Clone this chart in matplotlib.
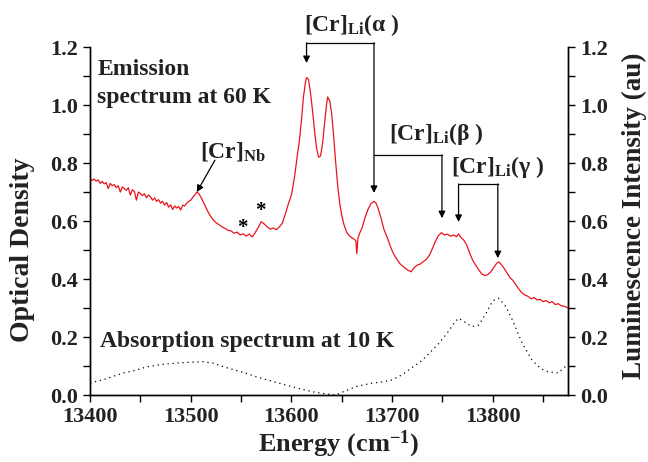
"""Emission / absorption spectra of Cr centres, replotted from the figure."""

import numpy as np
import matplotlib
matplotlib.use('Agg')
import matplotlib.pyplot as plt
from matplotlib.ticker import MultipleLocator, FormatStrFormatter

plt.rcParams['font.family'] = ['Liberation Serif', 'DejaVu Serif']
plt.rcParams['font.weight'] = 'bold'
plt.rcParams['mathtext.fontset'] = 'custom'
plt.rcParams['mathtext.rm'] = 'Liberation Serif:bold'
plt.rcParams['mathtext.bf'] = 'Liberation Serif:bold'
plt.rcParams['mathtext.it'] = 'Liberation Serif:bold'

# emission spectrum at 60 K (right axis)
emis_x = [13400, 13402, 13404, 13406, 13408, 13410, 13412, 13414, 13416, 13418,
          13420, 13422, 13424, 13426, 13428, 13430, 13432, 13434, 13436, 13438,
          13440, 13442, 13444, 13446, 13448, 13450, 13452, 13454, 13456, 13458,
          13460, 13462, 13464, 13466, 13468, 13470, 13472, 13474, 13476, 13478,
          13480, 13482, 13484, 13486, 13488, 13490, 13492, 13494, 13496, 13498,
          13500, 13502, 13504, 13506, 13508, 13510, 13513, 13516, 13519, 13522,
          13525, 13528, 13531, 13534, 13537, 13540, 13543, 13546, 13549, 13552,
          13555, 13558, 13561, 13564, 13567, 13570, 13573, 13576, 13579, 13582,
          13585, 13588, 13591, 13594, 13597, 13600, 13603, 13606, 13608, 13610,
          13612, 13614, 13615, 13617, 13619, 13621, 13623, 13625, 13627, 13629,
          13631, 13633, 13635, 13636, 13638, 13640, 13642, 13644, 13646, 13648,
          13650, 13652, 13655, 13658, 13661, 13663, 13664, 13665, 13666, 13668,
          13670, 13673, 13676, 13679, 13682, 13684, 13686, 13689, 13692, 13695,
          13698, 13701, 13704, 13708, 13712, 13716, 13719, 13722, 13725, 13728,
          13731, 13734, 13737, 13740, 13743, 13746, 13749, 13752, 13755, 13758,
          13761, 13764, 13766, 13768, 13771, 13774, 13777, 13780, 13783, 13786,
          13789, 13792, 13795, 13798, 13801, 13804, 13806, 13808, 13811, 13814,
          13817, 13820, 13823, 13826, 13829, 13832, 13835, 13838, 13841, 13844,
          13847, 13850, 13853, 13856, 13859, 13862, 13865, 13868, 13871, 13875]
emis_y = [0.748, 0.740, 0.745, 0.738, 0.742, 0.730, 0.737, 0.728, 0.733, 0.712,
          0.730, 0.722, 0.726, 0.715, 0.722, 0.700, 0.718, 0.712, 0.706, 0.715,
          0.690, 0.708, 0.702, 0.672, 0.700, 0.695, 0.688, 0.694, 0.680, 0.690,
          0.684, 0.672, 0.680, 0.668, 0.674, 0.662, 0.668, 0.655, 0.664, 0.648,
          0.656, 0.640, 0.652, 0.645, 0.650, 0.638, 0.655, 0.652, 0.662, 0.668,
          0.672, 0.682, 0.690, 0.700, 0.695, 0.683, 0.662, 0.640, 0.620, 0.605,
          0.595, 0.588, 0.580, 0.575, 0.568, 0.566, 0.558, 0.562, 0.552, 0.556,
          0.548, 0.555, 0.545, 0.560, 0.578, 0.598, 0.590, 0.580, 0.572, 0.576,
          0.570, 0.580, 0.593, 0.625, 0.660, 0.690, 0.750, 0.830, 0.880, 0.950,
          1.030, 1.080, 1.095, 1.088, 1.040, 0.980, 0.910, 0.850, 0.820, 0.825,
          0.870, 0.940, 1.005, 1.028, 1.015, 0.970, 0.890, 0.800, 0.720, 0.660,
          0.620, 0.590, 0.560, 0.548, 0.540, 0.536, 0.530, 0.488, 0.540, 0.560,
          0.575, 0.610, 0.640, 0.660, 0.668, 0.662, 0.645, 0.610, 0.570, 0.545,
          0.515, 0.490, 0.472, 0.452, 0.440, 0.430, 0.425, 0.440, 0.448, 0.452,
          0.460, 0.468, 0.482, 0.505, 0.530, 0.550, 0.560, 0.552, 0.555, 0.548,
          0.552, 0.546, 0.556, 0.545, 0.535, 0.518, 0.490, 0.465, 0.448, 0.432,
          0.418, 0.412, 0.415, 0.425, 0.440, 0.455, 0.459, 0.452, 0.438, 0.422,
          0.405, 0.395, 0.380, 0.365, 0.352, 0.345, 0.340, 0.332, 0.336, 0.328,
          0.330, 0.322, 0.326, 0.318, 0.322, 0.312, 0.315, 0.308, 0.306, 0.300]

# absorption spectrum at 10 K (left axis)
abs_x = [13400, 13415, 13433, 13445, 13456, 13470, 13489, 13500, 13512, 13522,
         13532, 13545, 13555, 13565, 13580, 13595, 13608, 13621, 13632, 13644,
         13652, 13664, 13680, 13690, 13700, 13710, 13720, 13730, 13740, 13747,
         13755, 13762, 13766, 13772, 13779, 13786, 13793, 13800, 13806, 13813,
         13820, 13829, 13839, 13848, 13855, 13865, 13872]
abs_y = [0.041, 0.055, 0.076, 0.085, 0.097, 0.105, 0.111, 0.113, 0.115, 0.110,
         0.098, 0.085, 0.075, 0.063, 0.048, 0.034, 0.022, 0.011, 0.005, 0.000,
         0.012, 0.029, 0.041, 0.045, 0.052, 0.070, 0.095, 0.120, 0.155, 0.180,
         0.215, 0.250, 0.265, 0.252, 0.236, 0.241, 0.280, 0.325, 0.334, 0.305,
         0.255, 0.180, 0.120, 0.090, 0.080, 0.076, 0.098]

fig = plt.figure(figsize=(6.48, 4.62), dpi=100)
ax = fig.add_axes([0.139, 0.145, 0.738, 0.753])
ax2 = ax.twinx()

ax.plot(abs_x, abs_y, color='black', linestyle=(0, (1, 3)), linewidth=0.9)
ax2.plot(emis_x, emis_y, color='#e8141c', linewidth=0.9)

for a in (ax, ax2):
    a.set_xlim(13400, 13875)
    a.set_ylim(0, 1.2)
    a.spines['top'].set_visible(False)
    a.yaxis.set_major_locator(MultipleLocator(0.2))
    a.yaxis.set_minor_locator(MultipleLocator(0.1))
    a.yaxis.set_major_formatter(FormatStrFormatter('%.1f'))
    a.tick_params(which='both', direction='out', width=1.0, length=5, labelsize=16,
                  labelcolor='#222222')
    for s in a.spines.values():
        s.set_linewidth(1.0)
ax.xaxis.set_major_locator(MultipleLocator(100))
ax.xaxis.set_minor_locator(MultipleLocator(50))

ax.set_xlabel('Energy (cm$^{-1}$)', fontsize=19, fontweight='bold', color='#222222')
ax.xaxis.set_label_coords(0.519, -0.098)
ax.set_ylabel('Optical Density', fontsize=20, fontweight='bold', color='#222222')
ax.yaxis.set_label_coords(-0.115, 0.417)
ax2.set_ylabel('Luminescence Intensity (au)', fontsize=19.5, fontweight='bold',
               color='#222222', rotation=90)
ax2.yaxis.set_label_coords(1.113, 0.515)

txt = dict(fontsize=17, fontweight='bold', color='#222222', clip_on=False)
ax2.text(13407, 1.103, 'Emission', va='baseline', **txt)
ax2.text(13407, 1.007, 'spectrum at 60 K', va='baseline', **txt)
ax.text(13410, 0.167, 'Absorption spectrum at 10 K', va='baseline', **txt)
ax2.text(13551, 0.575, '*', ha='center', va='center', fontsize=15, fontweight='bold')
ax2.text(13569, 0.635, '*', ha='center', va='center', fontsize=15, fontweight='bold')

lab = dict(fontsize=17, fontweight='bold', color='#222222', clip_on=False)
ax2.text(13509, 0.80, '[Cr]$_{\\mathbf{Nb}}$', ha='left', va='bottom', **lab)
ax2.text(13612, 1.23, '[Cr]$_{\\mathbf{Li}}$(α )', ha='left', va='bottom', **lab)
ax2.text(13697, 0.855, '[Cr]$_{\\mathbf{Li}}$(β )', ha='left', va='bottom', **lab)
ax2.text(13758, 0.741, '[Cr]$_{\\mathbf{Li}}$(γ )', ha='left', va='bottom', **lab)

arr = dict(arrowstyle='-|>', color='black', lw=0.9, mutation_scale=10, shrinkA=0, shrinkB=0)
ax2.annotate('', xy=(13506, 0.70), xytext=(13524, 0.81), arrowprops=arr)

# bracket lines for the Li site components
brk = dict(color='black', linewidth=0.9, clip_on=False)
ax2.plot([13615, 13682], [1.215, 1.215], **brk)
ax2.annotate('', xy=(13615, 1.145), xytext=(13615, 1.215), arrowprops=arr, annotation_clip=False)
ax2.annotate('', xy=(13682, 0.697), xytext=(13682, 1.215), arrowprops=arr, annotation_clip=False)
ax2.plot([13682, 13749.5], [0.828, 0.828], **brk)
ax2.annotate('', xy=(13749.5, 0.61), xytext=(13749.5, 0.828), arrowprops=arr)
ax2.plot([13766, 13805], [0.728, 0.728], **brk)
ax2.annotate('', xy=(13766, 0.597), xytext=(13766, 0.728), arrowprops=arr)
ax2.annotate('', xy=(13805, 0.472), xytext=(13805, 0.728), arrowprops=arr)

fig.savefig('out.png', dpi=100)
